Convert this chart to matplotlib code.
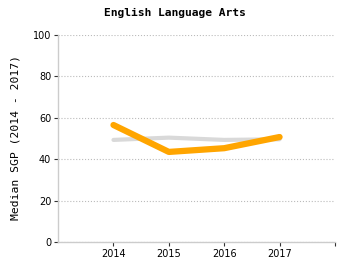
import matplotlib
matplotlib.use("Agg")
import matplotlib.pyplot as plt

# Data
years = [2014, 2015, 2016, 2017]
school_sgp = [56.5, 43.5, 45.3, 50.7]
state_sgp = [49.3, 50.4, 49.3, 49.6]
y_ticks = [0, 20, 40, 60, 80, 100]

plt.rcParams["font.family"] = ["DejaVu Sans Mono"]

fig = plt.figure(figsize=(3.5, 2.75), dpi=100)
ax = fig.add_axes([0.166, 0.12, 0.791, 0.753])

ax.plot(years, state_sgp, color="#d9d9d9", linewidth=3, solid_capstyle="round", zorder=2)
ax.plot(years, school_sgp, color="#ffa500", linewidth=4.5, solid_capstyle="round", zorder=3)

ax.set_xlim(2013, 2018)
ax.set_ylim(0, 100)
ax.set_xticks(years + [2018])
ax.set_xticklabels([str(y) for y in years] + [""])
ax.set_yticks(y_ticks)
ax.tick_params(labelsize=7, length=3, width=0.8, color="#333333", pad=2)
for lbl in ax.get_xticklabels() + ax.get_yticklabels():
    lbl.set_family("DejaVu Sans")

ax.yaxis.grid(True, linestyle=":", color="#bbbbbb", linewidth=0.8)
ax.set_axisbelow(True)
for side in ["top", "right"]:
    ax.spines[side].set_visible(False)
for side in ["left", "bottom"]:
    ax.spines[side].set_color("#cccccc")
    ax.spines[side].set_linewidth(1)

fig.text(0.043, 0.50, "Median SGP (2014 - 2017)", fontsize=8.2,
         rotation=90, ha="center", va="center")
fig.text(0.5, 0.953, "English Language Arts", fontsize=8.1,
         fontweight="bold", ha="center", va="center")

fig.savefig("out.png", dpi=100)
